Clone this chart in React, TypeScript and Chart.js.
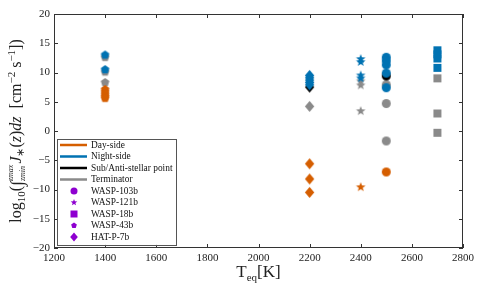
import React, { useEffect, useRef } from 'react';
import { Chart, registerables } from 'chart.js';
Chart.register(...registerables);

const ORANGE = '#D55E00';
const BLUE = '#0072B2';
const BLACK = '#000000';
const GRAY = '#8a8a8a';
const PURPLE = '#8E00D0';
const FONT = "'Liberation Serif', 'Times New Roman', serif";

// Axis ticks
const xTicks = [1200, 1400, 1600, 1800, 2000, 2200, 2400, 2600, 2800];
const yTicks = [-20, -15, -10, -5, 0, 5, 10, 15, 20];

// Planets (equilibrium temperature, K)
const planetNames = ['WASP-103b', 'WASP-121b', 'WASP-18b', 'WASP-43b', 'HAT-P-7b'];
const planetTeq = [2500, 2400, 2700, 1400, 2200];

// log10 column-integrated photolysis rates per planet and region
const wasp103bDay = [-7.0];
const wasp103bNight = [12.6, 12.0, 11.3, 9.9, 7.4];
const wasp103bSub = [9.4];
const wasp103bTerm = [7.9, 4.7, -1.7];

const wasp121bDay = [-9.6];
const wasp121bNight = [12.3, 11.8, 9.5, 9.0];
const wasp121bSub: number[] = [];
const wasp121bTerm = [8.5, 7.8, 3.4];

const wasp18bDay: number[] = [];
const wasp18bNight = [13.8, 13.1, 12.4, 10.8];
const wasp18bSub: number[] = [];
const wasp18bTerm = [9.0, 3.0, -0.3];

const wasp43bDay = [7.1, 6.7, 6.3, 5.9, 5.6];
const wasp43bNight = [13.0, 10.5];
const wasp43bSub: number[] = [];
const wasp43bTerm = [12.6, 10.1, 8.3];

const hatp7bDay = [-5.6, -8.2, -10.5];
const hatp7bNight = [9.5, 9.1, 8.7, 8.3, 7.9];
const hatp7bSub = [7.5];
const hatp7bTerm = [4.2];

const regionNames = ['Day-side', 'Night-side', 'Sub/Anti-stellar point', 'Terminator'];
const regionColors = [ORANGE, BLUE, BLACK, GRAY];

const planetValues = [
  [wasp103bDay, wasp103bNight, wasp103bSub, wasp103bTerm],
  [wasp121bDay, wasp121bNight, wasp121bSub, wasp121bTerm],
  [wasp18bDay, wasp18bNight, wasp18bSub, wasp18bTerm],
  [wasp43bDay, wasp43bNight, wasp43bSub, wasp43bTerm],
  [hatp7bDay, hatp7bNight, hatp7bSub, hatp7bTerm],
];
const planetShapes = ['circle', 'star', 'square', 'pentagon', 'diamond'];

function shapePath(ctx: CanvasRenderingContext2D, kind: string, cx: number, cy: number, r: number) {
  ctx.beginPath();
  if (kind === 'circle') {
    ctx.arc(cx, cy, r, 0, Math.PI * 2);
  } else if (kind === 'square') {
    ctx.rect(cx - r, cy - r, 2 * r, 2 * r);
  } else if (kind === 'diamond') {
    ctx.moveTo(cx, cy - r);
    ctx.lineTo(cx + r * 0.85, cy);
    ctx.lineTo(cx, cy + r);
    ctx.lineTo(cx - r * 0.85, cy);
  } else if (kind === 'star') {
    for (let i = 0; i < 10; i++) {
      const a = -Math.PI / 2 + (i * Math.PI) / 5;
      const rr = i % 2 === 0 ? r : r * 0.42;
      const px = cx + rr * Math.cos(a);
      const py = cy + rr * Math.sin(a);
      if (i === 0) ctx.moveTo(px, py);
      else ctx.lineTo(px, py);
    }
  } else if (kind === 'pentagon') {
    for (let i = 0; i < 5; i++) {
      const a = -Math.PI / 2 + (i * 2 * Math.PI) / 5;
      const px = cx + r * Math.cos(a);
      const py = cy + r * Math.sin(a);
      if (i === 0) ctx.moveTo(px, py);
      else ctx.lineTo(px, py);
    }
  }
  ctx.closePath();
}

function makeMarker(kind: string, color: string, r: number) {
  const size = Math.ceil(2 * r + 2);
  const c = document.createElement('canvas');
  c.width = size;
  c.height = size;
  const ctx = c.getContext('2d')!;
  ctx.fillStyle = color;
  shapePath(ctx, kind, size / 2, size / 2, r);
  ctx.fill();
  return c;
}

const markerSize: Record<string, number> = { circle: 4.5, star: 5, square: 4, pentagon: 4.5, diamond: 5.5 };

type Seg = { t: string; s: number; dy?: number; it?: boolean; lim?: [string, string] };

function drawRich(ctx: CanvasRenderingContext2D, segs: Seg[], x: number, y: number) {
  const font = (s: number, it?: boolean) => `${it ? 'italic ' : ''}${s}px ${FONT}`;
  const widths = segs.map((sg) => {
    if (sg.lim) {
      ctx.font = font(sg.s, true);
      return Math.max(ctx.measureText(sg.lim[0]).width, ctx.measureText(sg.lim[1]).width) + 1;
    }
    ctx.font = font(sg.s, sg.it);
    return ctx.measureText(sg.t).width;
  });
  const total = widths.reduce((a, b) => a + b, 0);
  let cx = x - total / 2;
  ctx.textBaseline = 'alphabetic';
  ctx.textAlign = 'left';
  segs.forEach((sg, i) => {
    if (sg.lim) {
      ctx.font = font(sg.s, true);
      ctx.fillText(sg.lim[0], cx, y - 8);
      ctx.fillText(sg.lim[1], cx, y + 4);
    } else {
      ctx.font = font(sg.s, sg.it);
      ctx.fillText(sg.t, cx, y + (sg.dy || 0));
    }
    cx += widths[i];
  });
}

const yTitle: Seg[] = [
  { t: 'log', s: 16 },
  { t: '10', s: 11, dy: 4 },
  { t: '(', s: 16 },
  { t: '∫', s: 18, dy: 2 },
  { t: '', s: 8, lim: ['zmax', 'zmin'] },
  { t: 'J', s: 16, it: true },
  { t: '∗', s: 11, dy: 3 },
  { t: '(', s: 16 },
  { t: 'z', s: 16, it: true },
  { t: ')', s: 16 },
  { t: 'dz', s: 16, it: true },
  { t: '  [cm', s: 16 },
  { t: '−2', s: 11, dy: -6 },
  { t: ' s', s: 16 },
  { t: '−1', s: 11, dy: -6 },
  { t: '])', s: 16 },
];
const xTitle: Seg[] = [
  { t: 'T', s: 17 },
  { t: 'eq', s: 11, dy: 4 },
  { t: '[K]', s: 17 },
];

const framePlugin = {
  id: 'frameAndExtras',
  afterDraw(chart: any) {
    const ctx: CanvasRenderingContext2D = chart.ctx;
    const { left, right, top, bottom } = chart.chartArea;
    const xs = chart.scales.x;
    const ys = chart.scales.y;
    ctx.save();
    ctx.strokeStyle = '#333';
    ctx.lineWidth = 1;
    ctx.strokeRect(left + 0.5, top + 0.5, right - left - 1, bottom - top - 1);
    ctx.beginPath();
    xTicks.forEach((v) => {
      const px = Math.round(xs.getPixelForValue(v)) + 0.5;
      ctx.moveTo(px, bottom);
      ctx.lineTo(px, bottom - 4);
      ctx.moveTo(px, top);
      ctx.lineTo(px, top + 4);
    });
    yTicks.forEach((v) => {
      const py = Math.round(ys.getPixelForValue(v)) + 0.5;
      ctx.moveTo(left, py);
      ctx.lineTo(left + 4, py);
      ctx.moveTo(right, py);
      ctx.lineTo(right - 4, py);
    });
    ctx.stroke();

    // axis titles
    ctx.fillStyle = '#222';
    drawRich(ctx, xTitle, (left + right) / 2, 277);
    ctx.save();
    ctx.translate(21, (top + bottom) / 2);
    ctx.rotate(-Math.PI / 2);
    drawRich(ctx, yTitle, 0, 0);
    ctx.restore();

    // legend
    const lx = 57, ly = 139, lw = 119, lh = 106;
    ctx.fillStyle = 'rgba(255,255,255,0.9)';
    ctx.fillRect(lx, ly, lw, lh);
    ctx.strokeStyle = '#555';
    ctx.lineWidth = 1;
    ctx.strokeRect(lx + 0.5, ly + 0.5, lw, lh);
    const rowH = 11.5;
    const textX = 91;
    ctx.font = `9.4px ${FONT}`;
    ctx.textBaseline = 'middle';
    ctx.textAlign = 'left';
    regionNames.forEach((name, i) => {
      const yy = ly + 6 + i * rowH;
      ctx.strokeStyle = regionColors[i];
      ctx.lineWidth = 2.5;
      ctx.beginPath();
      ctx.moveTo(60, yy);
      ctx.lineTo(87, yy);
      ctx.stroke();
      ctx.fillStyle = '#111';
      ctx.fillText(name, textX, yy + 0.5);
    });
    const legendR: Record<string, number> = { circle: 3.5, star: 3.5, square: 3.5, pentagon: 3, diamond: 4.5 };
    planetNames.forEach((name, j) => {
      const yy = ly + 6 + (4 + j) * rowH;
      ctx.fillStyle = PURPLE;
      shapePath(ctx, planetShapes[j], 74, yy, legendR[planetShapes[j]]);
      ctx.fill();
      ctx.fillStyle = '#111';
      ctx.fillText(name, textX, yy + 0.5);
    });
    ctx.restore();
  },
};

export default function App() {
  const ref = useRef<HTMLCanvasElement>(null);
  useEffect(() => {
    const datasets: any[] = [];
    for (let r = 0; r < 4; r++) {
      planetNames.forEach((name, j) => {
        const vals = planetValues[j][r];
        if (!vals.length) return;
        const shape = planetShapes[j];
        datasets.push({
          label: `${name} ${regionNames[r]}`,
          data: vals.map((v) => ({ x: planetTeq[j], y: v })),
          pointStyle: makeMarker(shape, regionColors[r], markerSize[shape]),
          backgroundColor: regionColors[r],
          borderColor: regionColors[r],
          borderWidth: 0,
        });
      });
    }
    const chart = new Chart(ref.current!, {
      type: 'scatter',
      data: { datasets },
      options: {
        animation: false,
        responsive: false,
        layout: { padding: { top: 14, right: 20, left: 0, bottom: 0 } },
        plugins: { legend: { display: false }, tooltip: { enabled: false } },
        scales: {
          x: {
            type: 'linear',
            min: 1200,
            max: 2800,
            afterFit: (s: any) => { s.height = 42; },
            afterBuildTicks: (s: any) => { s.ticks = xTicks.map((v) => ({ value: v })); },
            grid: { display: false, drawTicks: false },
            border: { display: false },
            ticks: {
              padding: 4,
              color: '#222',
              font: { family: FONT, size: 11 },
              maxRotation: 0,
              callback: (v: any) => String(v),
            },
          },
          y: {
            type: 'linear',
            min: -20,
            max: 20,
            afterFit: (s: any) => { s.width = 54; },
            afterBuildTicks: (s: any) => { s.ticks = yTicks.map((v) => ({ value: v })); },
            grid: { display: false, drawTicks: false },
            border: { display: false },
            ticks: {
              padding: 4,
              color: '#222',
              font: { family: FONT, size: 11 },
              callback: (v: any) => (v < 0 ? '−' + Math.abs(v) : String(v)),
            },
          },
        },
      },
      plugins: [framePlugin],
    });
    return () => chart.destroy();
  }, []);
  return (
    <div style={{ position: 'absolute', left: 0, top: 0, width: 483, height: 290, background: '#fff' }}>
      <canvas ref={ref} width={483} height={290} />
    </div>
  );
}
